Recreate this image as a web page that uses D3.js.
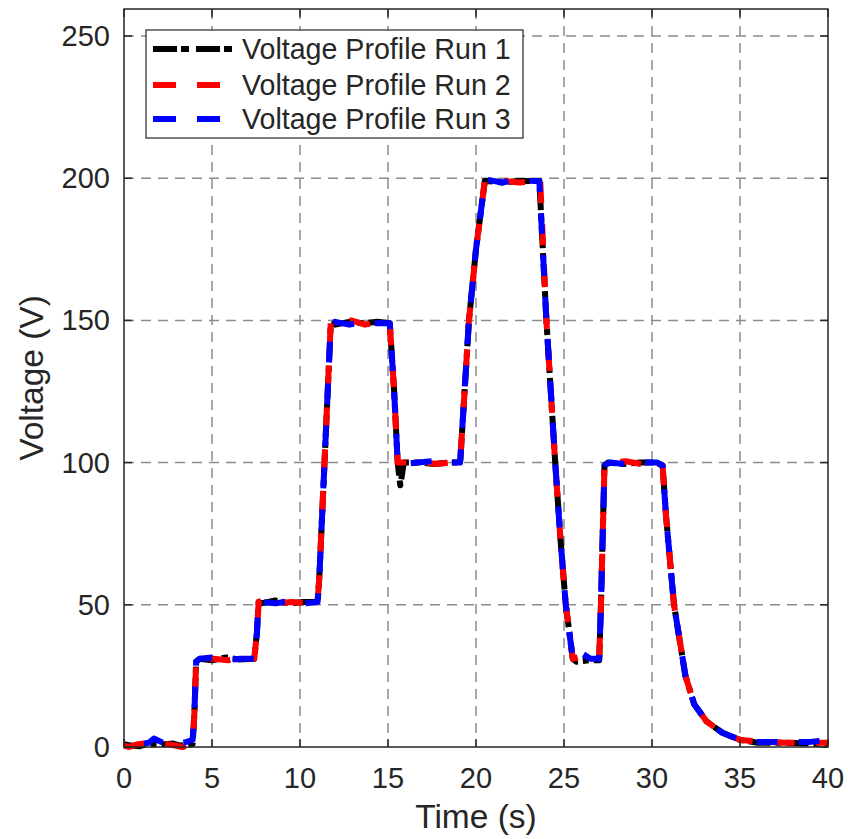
<!DOCTYPE html>
<html lang="en">
<head>
<meta charset="utf-8">
<title>Voltage Profile</title>
<script src="https://d3js.org/d3.v7.min.js"></script>
<style>
  body { margin: 0; background: #fff; }
  text { font-family: "Liberation Sans", Arial, Helvetica, sans-serif; fill: #262626; }
</style>
</head>
<body>
<svg width="848" height="839"></svg>
<script>
// data
const xTicks = [0, 5, 10, 15, 20, 25, 30, 35, 40];
const yTicks = [0, 50, 100, 150, 200, 250];
const seriesNames = ["Voltage Profile Run 1", "Voltage Profile Run 2", "Voltage Profile Run 3"];

const t1 = [0, 0.4, 0.9, 1.3, 2.0, 2.8, 3.2, 3.9, 4.0, 4.1, 4.3, 5.0, 5.8, 6.5, 7.4, 7.55, 7.65, 7.8, 8.6, 9.4, 10.2, 11.0, 11.1, 11.75, 12.0, 12.8, 13.6, 14.4, 15.1, 15.35, 15.55, 15.7, 15.9, 16.8, 17.6, 18.4, 19.1, 19.6, 20.0, 20.5, 20.6, 21.5, 22.4, 23.3, 23.6, 24.0, 24.5, 24.8, 25.1, 25.5, 25.7, 26.4, 27.0, 27.1, 27.3, 27.5, 28.4, 29.3, 30.2, 30.6, 30.8, 31.25, 31.9, 32.4, 33.1, 34.0, 35.0, 36.0, 37.5, 39.0, 40.0];
const v1 = [1, 0.5, 0.3, 1, 0.8, 1.2, 0.5, 1, 12, 30, 31, 30.5, 31.5, 30.8, 31, 40, 51, 50.5, 51.5, 50.5, 51, 51, 60, 149, 148.5, 149.5, 149, 149.5, 149, 125, 100, 92, 100, 100, 99.5, 100, 100, 150, 175, 199, 199, 198.5, 199, 199, 199, 150, 100, 73, 50, 31, 30, 30.5, 30.5, 50, 99, 100, 99.5, 100, 100, 99, 81, 50, 25, 15, 9, 5, 2.5, 1.5, 1.5, 1.2, 1];

const t2 = [0, 0.3, 0.8, 1.5, 2.1, 2.7, 3.3, 3.9, 4.0, 4.1, 4.3, 5.1, 5.9, 6.7, 7.4, 7.55, 7.65, 7.8, 8.7, 9.5, 10.4, 11.0, 11.1, 11.75, 12.1, 12.9, 13.7, 14.5, 15.1, 15.35, 15.55, 15.8, 16.8, 17.7, 18.5, 19.1, 19.6, 20.0, 20.5, 20.6, 21.6, 22.5, 23.3, 23.55, 23.65, 24.0, 24.5, 24.8, 25.1, 25.5, 25.8, 26.5, 27.0, 27.1, 27.3, 27.6, 28.5, 29.4, 30.3, 30.6, 30.8, 31.25, 31.9, 32.4, 33.1, 34.0, 35.0, 36.2, 37.6, 39.0, 40.0];
const v2 = [0.5, 0, 1, 1.5, 1.2, 0.8, 0, 1, 12, 30, 31.5, 31, 30.5, 31.5, 31, 40, 51, 51.5, 50.5, 51, 50.5, 51, 60, 149.5, 149, 150, 148.5, 149.5, 149, 125, 100, 100, 100.5, 99.5, 100, 100, 150, 175, 199, 198.5, 199, 198.5, 199, 200.5, 199, 150, 100, 73, 50, 31, 31.5, 30.5, 31.5, 50, 99, 100, 100.5, 99.5, 100, 99, 81, 50, 25, 15, 9, 5, 2.5, 1.8, 1.5, 1.5, 1.5];

const t3 = [0, 0.4, 0.9, 1.4, 1.7, 2.2, 2.8, 3.4, 3.9, 4.0, 4.1, 4.3, 5.0, 5.8, 6.6, 7.4, 7.55, 7.65, 7.8, 8.6, 9.5, 10.3, 11.0, 11.1, 11.75, 12.0, 12.8, 13.6, 14.4, 15.1, 15.35, 15.55, 15.8, 16.7, 17.5, 18.4, 19.1, 19.6, 20.0, 20.5, 20.6, 21.5, 22.4, 23.3, 23.6, 24.0, 24.5, 24.8, 25.1, 25.5, 25.7, 26.0, 26.5, 27.0, 27.1, 27.3, 27.6, 28.5, 29.4, 30.3, 30.6, 30.8, 31.25, 31.9, 32.4, 33.1, 34.0, 35.0, 36.0, 37.5, 39.0, 39.6, 40.0];
const v3 = [2.8, 2.2, 1, 1.5, 3, 1.5, 1, 1.5, 2.5, 12, 30, 31, 31.5, 30.5, 31, 31, 40, 51, 51, 50.5, 51.5, 50.5, 51, 60, 149, 149.5, 148.5, 149.5, 149, 149, 125, 100, 99.5, 100, 100.5, 100, 100, 150, 175, 199, 199.5, 198.5, 199.5, 199, 199, 150, 100, 73, 50, 31, 30.5, 33, 31, 31, 50, 99, 100, 99.5, 100, 100, 99, 81, 50, 25, 15, 9, 5, 2.5, 1.8, 1.8, 1.8, 2.2, 1.5];

const svg = d3.select("svg");
const plotLeft = 124, plotRight = 828, plotTop = 9, plotBottom = 747;

const x = d3.scaleLinear().domain([0, 40]).range([plotLeft, plotRight]);
const y = d3.scaleLinear().domain([0, 250]).range([plotBottom, 36]);

// grid
const grid = svg.append("g")
  .attr("stroke", "#8c8c8c")
  .attr("stroke-width", 1.5)
  .attr("stroke-dasharray", "10,7");
grid.selectAll("line.vx")
  .data(xTicks.slice(1, -1))
  .join("line")
  .attr("class", "vx")
  .attr("x1", d => x(d)).attr("x2", d => x(d))
  .attr("y1", plotTop).attr("y2", plotBottom);
grid.selectAll("line.hy")
  .data(yTicks.slice(1))
  .join("line")
  .attr("class", "hy")
  .attr("x1", plotLeft).attr("x2", plotRight)
  .attr("y1", d => y(d)).attr("y2", d => y(d));

// lines
const runs = [
  { t: t1, v: v1, color: "#000", dash: "22,5,6,5", offset: 0 },
  { t: t2, v: v2, color: "#ff0000", dash: "21,21", offset: 0 },
  { t: t3, v: v3, color: "#0000ff", dash: "21,21", offset: 21 }
];

const line = d3.line()
  .x(d => x(d[0]))
  .y(d => y(d[1]));

const plot = svg.append("g");
runs.forEach(r => {
  plot.append("path")
    .datum(d3.zip(r.t, r.v))
    .attr("fill", "none")
    .attr("stroke", r.color)
    .attr("stroke-width", 6)
    .attr("stroke-linejoin", "round")
    .attr("stroke-dasharray", r.dash)
    .attr("stroke-dashoffset", r.offset)
    .attr("d", line);
});

// axes frame and ticks (inward, both sides)
const axisG = svg.append("g").attr("stroke", "#262626").attr("stroke-width", 1.5);
axisG.append("rect")
  .attr("x", plotLeft).attr("y", plotTop)
  .attr("width", plotRight - plotLeft).attr("height", plotBottom - plotTop)
  .attr("fill", "none");
const tl = 8;
xTicks.forEach(d => {
  axisG.append("line").attr("x1", x(d)).attr("x2", x(d)).attr("y1", plotBottom).attr("y2", plotBottom - tl);
  axisG.append("line").attr("x1", x(d)).attr("x2", x(d)).attr("y1", plotTop).attr("y2", plotTop + tl);
});
yTicks.forEach(d => {
  axisG.append("line").attr("x1", plotLeft).attr("x2", plotLeft + tl).attr("y1", y(d)).attr("y2", y(d));
  axisG.append("line").attr("x1", plotRight).attr("x2", plotRight - tl).attr("y1", y(d)).attr("y2", y(d));
});

svg.append("g").selectAll("text")
  .data(xTicks)
  .join("text")
  .attr("x", d => x(d))
  .attr("y", 788)
  .attr("text-anchor", "middle")
  .attr("font-size", 29)
  .text(d => d);

svg.append("g").selectAll("text")
  .data(yTicks)
  .join("text")
  .attr("x", 110)
  .attr("y", d => y(d) + 10)
  .attr("text-anchor", "end")
  .attr("font-size", 29)
  .text(d => d);

svg.append("text")
  .attr("x", (plotLeft + plotRight) / 2)
  .attr("y", 828)
  .attr("text-anchor", "middle")
  .attr("font-size", 33.5)
  .text("Time (s)");

svg.append("text")
  .attr("transform", `translate(43,${(plotTop + plotBottom) / 2}) rotate(-90)`)
  .attr("text-anchor", "middle")
  .attr("font-size", 33.5)
  .text("Voltage (V)");

// legend
const legend = svg.append("g");
legend.append("rect")
  .attr("x", 146).attr("y", 30)
  .attr("width", 377).attr("height", 108)
  .attr("fill", "#fff")
  .attr("stroke", "#262626")
  .attr("stroke-width", 1.2);
const rowY = [49, 85, 119];
runs.forEach((r, i) => {
  legend.append("line")
    .attr("x1", 153).attr("x2", 233)
    .attr("y1", rowY[i]).attr("y2", rowY[i])
    .attr("stroke", r.color)
    .attr("stroke-width", 6)
    .attr("stroke-dasharray", i === 0 ? "24,4,8,7" : "23,21");
  legend.append("text")
    .attr("x", 242)
    .attr("y", rowY[i] + 10)
    .attr("font-size", 28.6)
    .text(seriesNames[i]);
});
</script>
</body>
</html>
